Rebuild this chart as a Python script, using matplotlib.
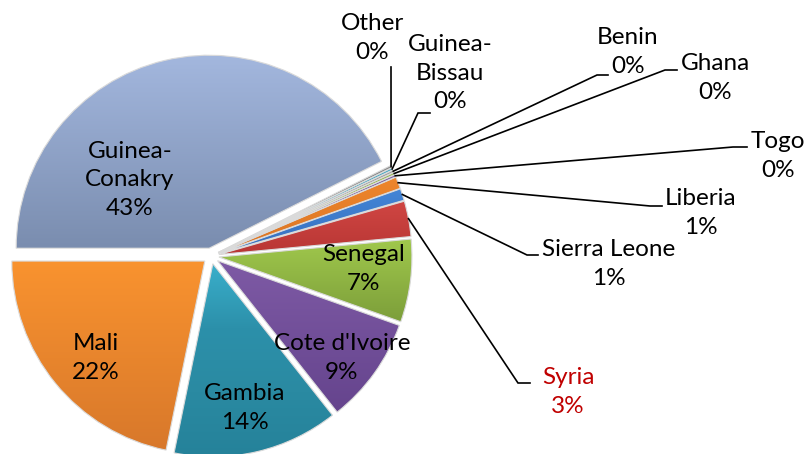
"""
Pie chart: share of arrivals by country of origin (Excel-style, exploded, gradient fill).
"""

import matplotlib
matplotlib.use("Agg")
import matplotlib.pyplot as plt
import numpy as np
from matplotlib.colors import LinearSegmentedColormap

# ── Data ──────────────────────────────────────────────────────────────────────
countries = [
    "Guinea-Conakry", "Other", "Guinea-Bissau", "Benin", "Ghana", "Togo",
    "Liberia", "Sierra Leone", "Syria", "Senegal", "Cote d'Ivoire", "Gambia", "Mali",
]
shares = [43.0, 0.2, 0.2, 0.2, 0.2, 0.2, 1.0, 1.0, 3.0, 7.0, 9.0, 14.0, 22.0]

# gradient stops (top -> bottom) for each slice
slice_colors = [
    ("#A3B7DE", "#7A8DAF"),              # Guinea-Conakry
    ("#8C8C8C", "#7A7A7A"),              # Other
    ("#4BACC6", "#3A97AE"),              # Guinea-Bissau
    ("#A0A0A0", "#909090"),              # Benin
    ("#9BBB59", "#86A34A"),              # Ghana
    ("#8064A2", "#6E5290"),              # Togo
    ("#EE862C", "#DA7424"),              # Liberia
    ("#4485D6", "#356FBE"),              # Sierra Leone
    ("#D04643", "#B83634"),              # Syria
    ("#A0C84C", "#7C9E3A"),              # Senegal
    ("#7E5AA5", "#65448D"),              # Cote d'Ivoire
    ("#3AAFCB", "#2C90AA", "#2A8AA2", "#25829A"),  # Gambia
    ("#F9932F", "#D8782B"),              # Mali
]

# ── Layout (pixel coords, origin top-left) ───────────────────────────────────
W, H = 807, 454
CENTER = (211, 256)
RADIUS = 193
EXPLODE_PX = 8
FONT = "Lato"
FONT_SIZE = 17.5
LINESPACING = 1.42

inside_labels = {
    "Guinea-Conakry": (130, 180),
    "Mali": (96, 358),
    "Gambia": (245, 408),
    "Cote d'Ivoire": (342, 358),
    "Senegal": (364, 269),
}
# label centre, elbow of leader line, end of leader line
outside_labels = {
    "Other":         ((372, 38),  (391, 67),  (391, 67)),
    "Guinea-Bissau": ((450, 73),  (418, 113), (430, 113)),
    "Benin":         ((628, 52),  (597, 75),  (608, 75)),
    "Ghana":         ((715, 78),  (665, 70),  (677, 70)),
    "Togo":          ((778, 156), (733, 147), (747, 147)),
    "Liberia":       ((701, 213), (650, 206), (662, 206)),
    "Sierra Leone":  ((609, 264), (527, 255), (538, 255)),
    "Syria":         ((568, 392), (518, 383), (530, 383)),
}
red_labels = {"Syria"}


def px(p):
    """pixel (x, y from top) -> data coords (y up)."""
    return p[0], H - p[1]


def wrap(name: str) -> str:
    return name.replace("-", "-\n")


fig = plt.figure(figsize=(W / 100, H / 100), dpi=100)
ax = fig.add_axes([0, 0, 1, 1])
ax.set_axis_off()

total = sum(shares)
pct = [f"{v / total * 100:.0f}%" for v in shares]

# explode is in data units here (radius is in pixels)
wedges, _ = ax.pie(
    shares,
    startangle=180,
    counterclock=False,
    center=px(CENTER),
    radius=RADIUS,
    explode=[EXPLODE_PX] * len(shares),
    wedgeprops=dict(linewidth=0.8, edgecolor="#DADADA"),
    frame=True,
)

# gradient fill clipped to each wedge
grad = np.linspace(0, 1, 256).reshape(-1, 1)
for w, stops in zip(wedges, slice_colors):
    ext = w.get_path().get_extents()
    cmap = LinearSegmentedColormap.from_list("g", list(reversed(stops)))
    im = ax.imshow(
        grad, extent=[ext.x0, ext.x1, ext.y0, ext.y1], origin="lower",
        cmap=cmap, aspect="auto", zorder=1, interpolation="bilinear",
    )
    im.set_clip_path(w)
    w.set_facecolor("none")
    w.set_zorder(2)

# labels inside big slices
for name, pos in inside_labels.items():
    i = countries.index(name)
    ax.text(*px(pos), f"{wrap(name)}\n{pct[i]}", ha="center", va="center",
            multialignment="center", fontsize=FONT_SIZE, family=FONT,
            linespacing=LINESPACING, color="#000000", zorder=5)

# labels outside with leader lines
for name, (pos, elbow, end) in outside_labels.items():
    i = countries.index(name)
    w = wedges[i]
    mid = np.deg2rad((w.theta1 + w.theta2) / 2)
    cx, cy = w.center
    start = (cx + w.r * np.cos(mid), cy + w.r * np.sin(mid))
    ex, ey = px(elbow)
    fx, fy = px(end)
    ax.plot([start[0], ex, fx], [start[1], ey, fy], color="#000000", lw=1.2,
            solid_joinstyle="miter", zorder=4)
    color = "#C00000" if name in red_labels else "#000000"
    ax.text(*px(pos), f"{wrap(name)}\n{pct[i]}", ha="center", va="center",
            multialignment="center", fontsize=FONT_SIZE, family=FONT,
            linespacing=LINESPACING, color=color, zorder=5)

ax.set_xlim(0, W)
ax.set_ylim(0, H)
ax.set_aspect("equal")
ax.set_axis_off()

fig.savefig("out.png", dpi=100, facecolor="white")
